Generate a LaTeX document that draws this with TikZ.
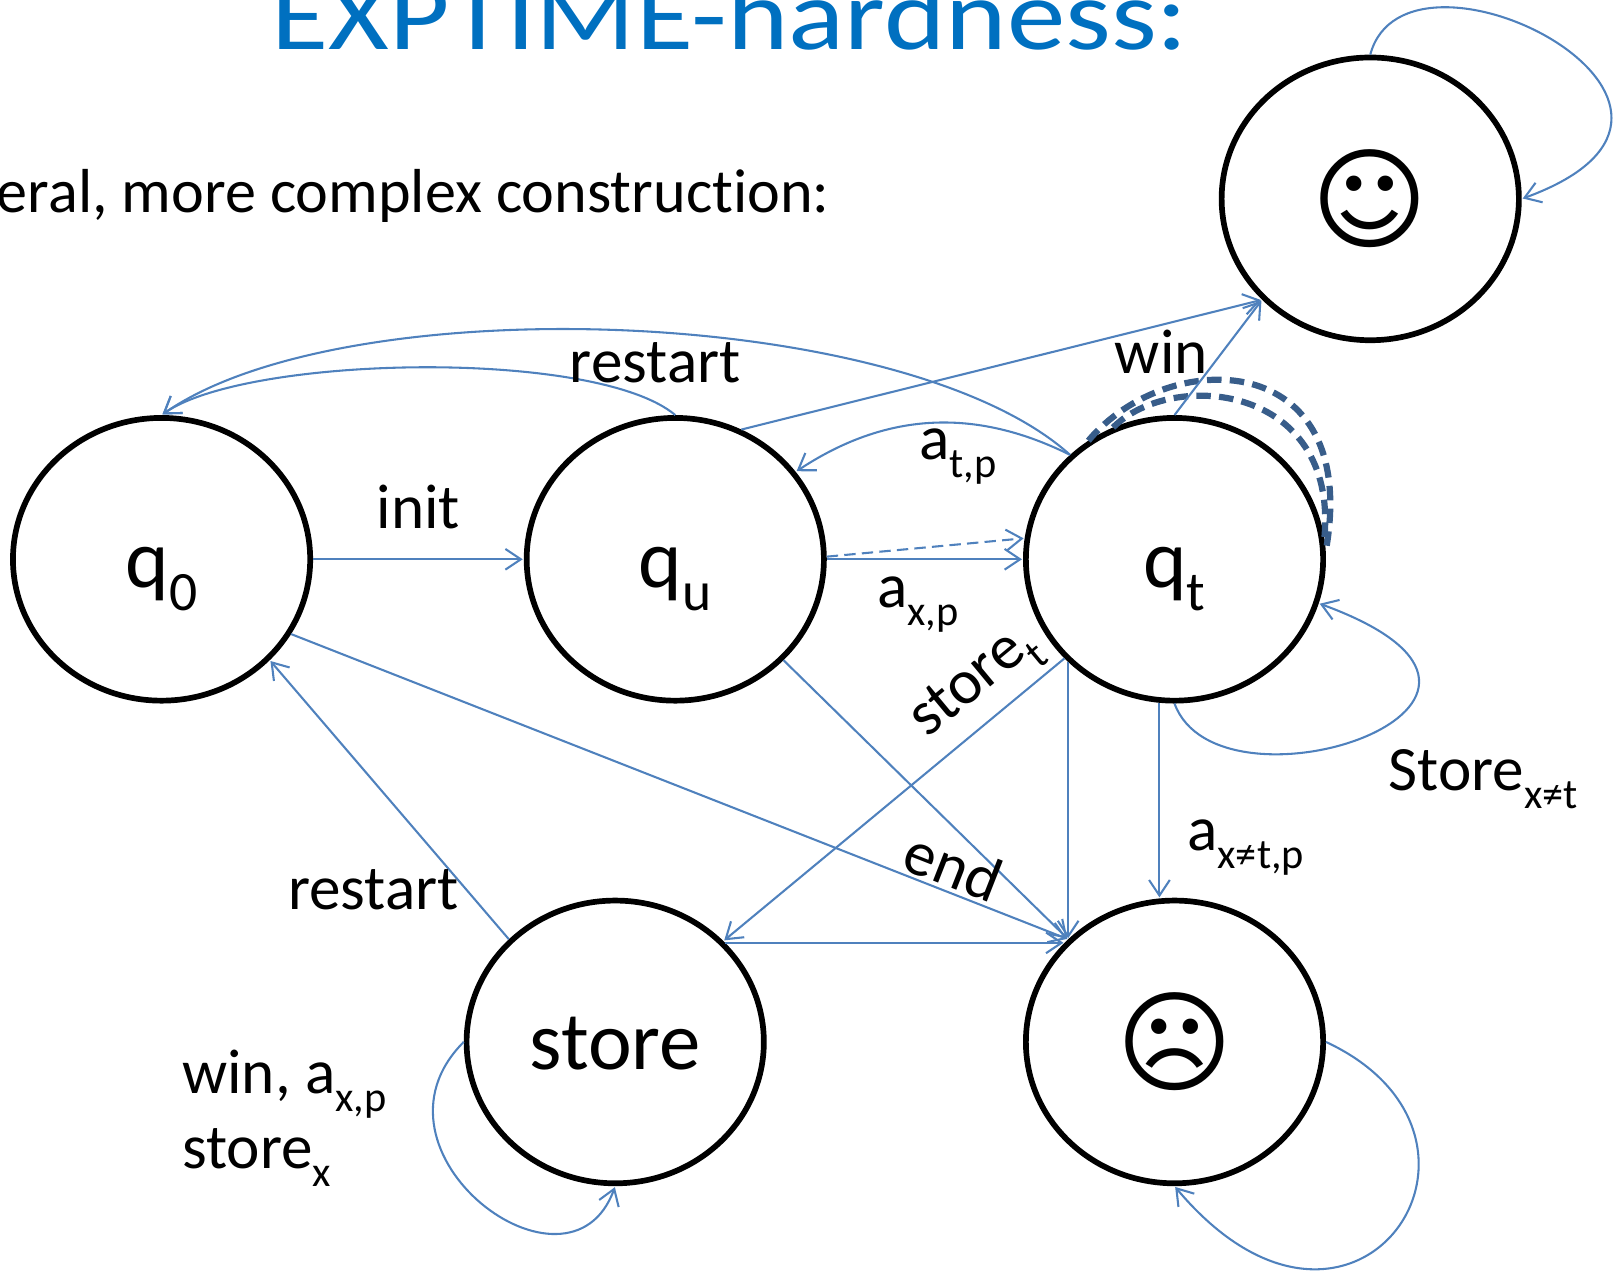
\documentclass[tikz,border=0pt]{standalone}
\usepackage{fontspec}
\setmainfont{Carlito}[Ligatures=NoCommon]
\newfontfamily\facefont{DejaVu Sans}
\usepackage{graphicx}
\usetikzlibrary{shapes.geometric,arrows.meta}

\definecolor{linkblue}{HTML}{4F81BD}
\definecolor{titleblue}{HTML}{0070C0}
\definecolor{loopblue}{HTML}{385D8A}
\newcommand{\idx}[1]{\raisebox{-0.28em}{\scalebox{0.67}{#1}}}

\begin{document}
\begin{tikzpicture}[x=1pt,y=1pt,>={Straight Barb[length=15pt,width=20pt]},shorten >=1pt,
    bubble/.style={ellipse,draw,line width=5.5pt,fill=white,minimum width=287pt,minimum height=273pt,inner sep=0pt},
    qname/.style={bubble,font=\fontsize{80}{96}\selectfont,text height=76pt,text depth=22pt},
    face/.style={bubble,font=\facefont\fontsize{108}{108}\selectfont},
    link/.style={->,color=linkblue,line width=2pt},
    lbl/.style={font=\fontsize{61}{73}\selectfont,inner sep=0pt,text=black}]
    \useasboundingbox (0,0) rectangle (1568,-1229);

    \node[anchor=base west,inner sep=0pt,text=titleblue,font=\fontsize{97}{116}\selectfont] (title) at (262,-47.5) {\scalebox{1.165}[1]{EXPTIME-hardness:}};
    \node[anchor=base east,inner sep=0pt,font=\fontsize{60}{72}\selectfont] (intro) at (801,-205) {eral, more complex construction:};

    \node[qname] (q0) at (156,-540) {q\idx{0}};
    \node[qname] (qu) at (652,-540) {q\idx{u}};
    \node[qname] (qt) at (1134,-540) {q\idx{t}};
    \node[face] (smile) at (1323,-192) {☺};
    \node[qname] (store) at (594,-1006) {store};
    \node[face] (sad) at (1134,-1006) {☹};

    \path[color=loopblue,line width=6pt,dash pattern=on 14pt off 8pt]
        (qt.126) edge[out=50,in=80,out distance=120pt,in distance=200pt] (qt.3)
        (qt.115) edge[out=45,in=85,out distance=80pt,in distance=150pt] (qt.8);

    \path[link,dash pattern=on 11pt off 6pt] (qu.1) edge (qt.172);

    \path[link] (q0.east) edge node[lbl,above=28pt] {init} (qu.west)
                (qu.east) edge node[lbl,below=16pt,pos=0.465] {a\idx{x,p}} (qt.west)
                (qt.135) edge[bend right=30] node[lbl,below=5pt,pos=0.4] {a\idx{t,p}} (qu.36)
                (qu.north) edge[out=140,in=35,looseness=0.52] (q0.north)
                (qt.135) edge[out=138,in=35,looseness=0.63] node[lbl,below=9pt,pos=0.47] {restart} (q0.north)
                (qu.63) edge (smile.223)
                (qt.north) edge node[lbl,left=13pt,pos=0.545] {win} (smile.223)
                (qt.south) edge[out=-70,in=-20,out distance=125pt,in distance=280pt]
                    node[lbl,pos=0.55,anchor=north west,xshift=4pt,yshift=-21pt] {Store\idx{x≠t}} (qt.-17)
                (qt.-96) edge node[lbl,right=26pt,pos=0.74] {a\idx{x≠t,p}} (sad.96)
                (qt.224) edge (sad.136)
                (qt.222) edge node[lbl,sloped,above=6pt,pos=0.19] {store\idx{t}} (store.43)
                (qu.-43) edge (sad.136)
                (q0.-30) edge node[lbl,sloped,above=3pt,pos=0.84] {end} (sad.136)
                (store.42) edge (sad.138)
                (store.136) edge node[lbl,left=7pt,pos=0.176] {restart} (q0.-43)
                (store.west) edge[out=225,in=-110,out distance=150pt,in distance=130pt]
                    node[lbl,align=left,left=44pt,pos=0.22] {win, a\idx{x,p}\\store\idx{x}} (store.south)
                (sad.east) edge[out=-25,in=-50,out distance=220pt,in distance=270pt] (sad.south)
                (smile.north) edge[out=75,in=20,out distance=135pt,in distance=260pt] (smile.east);
\end{tikzpicture}
\end{document}
